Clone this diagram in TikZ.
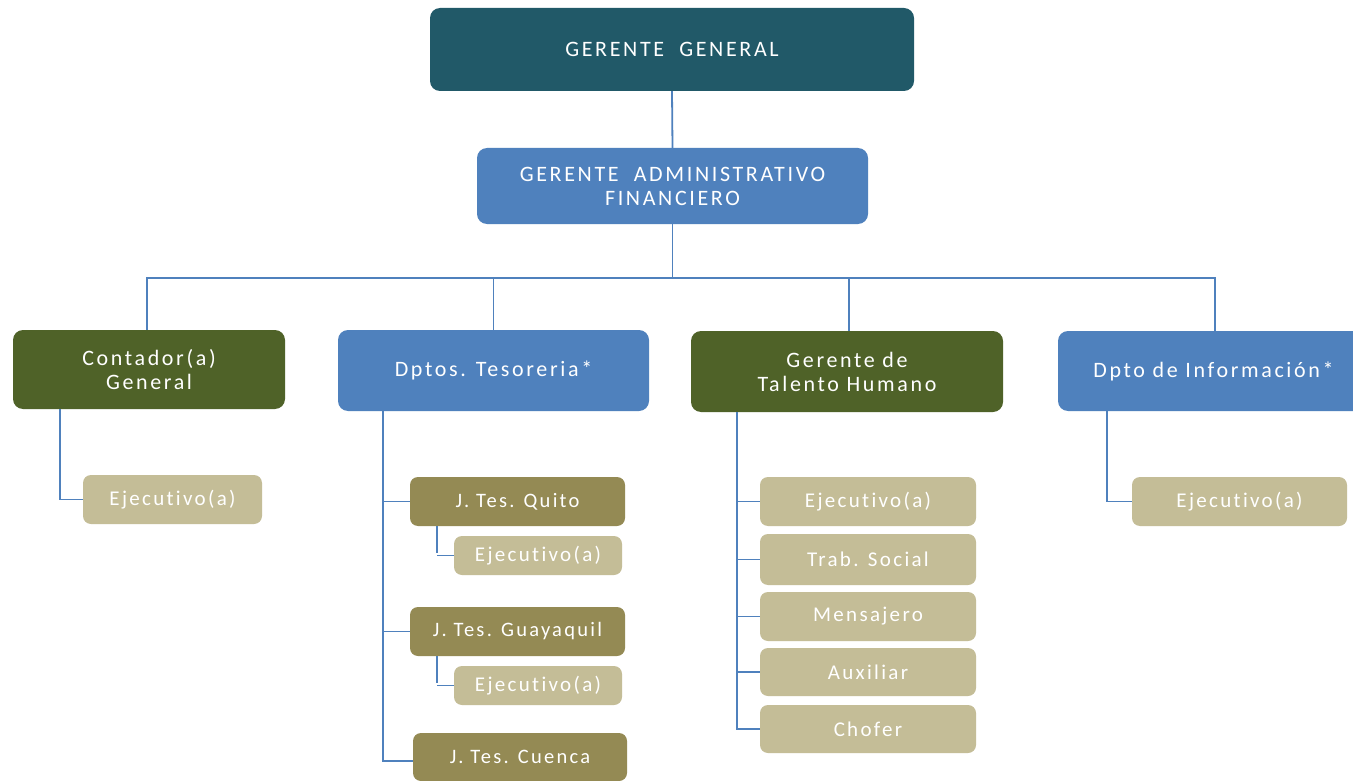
\documentclass[tikz,border=0pt]{standalone}
\usepackage{fontspec}
\setmainfont{Carlito}[Ligatures=NoCommon]
\newfontfamily\bigface{Carlito}[Ligatures=NoCommon, LetterSpace=12]
\newfontfamily\smallface{Carlito}[Ligatures=NoCommon, LetterSpace=11]
\definecolor{cTop}{HTML}{215968}
\definecolor{cBlue}{HTML}{4F81BD}
\definecolor{cGreen}{HTML}{4F6228}
\definecolor{cOlive}{HTML}{948A54}
\definecolor{cTan}{HTML}{C4BD97}
\tikzset{
  card/.style={rounded corners=10pt, text=white, align=center, inner sep=0pt,
    font=\bigface\fontsize{22}{24}\selectfont},
  topcard/.style={card, fill=cTop},
  bluecard/.style={card, fill=cBlue},
  greencard/.style={card, fill=cGreen},
  olivecard/.style={card, fill=cOlive, rounded corners=8pt, font=\smallface\fontsize{20.5}{22}\selectfont},
  tancard/.style={card, fill=cTan, rounded corners=8pt, font=\smallface\fontsize{21}{22}\selectfont},
  link/.style={draw=cBlue, line width=1.8pt},
}
\begin{document}
\begin{tikzpicture}[x=1pt, y=-1pt]
\useasboundingbox (0,0) rectangle (1353,781);
\clip (0,0) rectangle (1353,781);
\fill[white] (0,0) rectangle (1353,781);

% top levels
\node[topcard, minimum width=484pt, minimum height=83pt] (gg) at (672,49.5) {GERENTE\ \ GENERAL};
\node[bluecard, minimum width=391pt, minimum height=76pt] (gaf) at (672.5,186) {GERENTE\ \ ADMINISTRATIVO\\FINANCIERO};

% departments
\node[greencard, minimum width=272pt, minimum height=79pt] (cont) at (149,369.5) {Contador(a)\\General};
\node[bluecard, minimum width=311pt, minimum height=81pt] (tes) at (493.5,370.5) {Dptos. Tesoreria*};
\node[greencard, minimum width=312pt, minimum height=81pt] (th) at (847,371.5) {Gerente de\\Talento Humano};
\node[bluecard, minimum width=311pt, minimum height=80pt] (info) at (1213.5,371) {Dpto de Información*};

% Contador
\node[tancard, minimum width=179pt, minimum height=49pt] (ejc) at (172.5,499.5) {Ejecutivo(a)};

% Tesoreria
\node[olivecard, minimum width=215pt, minimum height=49pt] (quito) at (517.5,501.5) {J. Tes. Quito};
\node[tancard, minimum width=168pt, minimum height=39pt] (ejq) at (538,555.5) {Ejecutivo(a)};
\node[olivecard, minimum width=215pt, minimum height=49pt] (guay) at (517.5,631.5) {J. Tes. Guayaquil};
\node[tancard, minimum width=168pt, minimum height=39pt] (ejg) at (538,685.5) {Ejecutivo(a)};
\node[olivecard, minimum width=214pt, minimum height=48pt] (cuenca) at (520,757) {J. Tes. Cuenca};

% Talento Humano
\node[tancard, minimum width=216pt, minimum height=49pt] (ejt) at (868,501.5) {Ejecutivo(a)};
\node[tancard, minimum width=216pt, minimum height=51pt] (trab) at (868,559.5) {Trab. Social};
\node[tancard, minimum width=216pt, minimum height=49pt] (mens) at (868,616.5) {Mensajero};
\node[tancard, minimum width=216pt, minimum height=48pt] (aux) at (868,672) {Auxiliar};
\node[tancard, minimum width=216pt, minimum height=48pt] (chof) at (868,729) {Chofer};

% Informacion
\node[tancard, minimum width=215pt, minimum height=49pt] (eji) at (1239.5,501.5) {Ejecutivo(a)};

% connectors
\coordinate (bus) at (0,278);
\draw[link] (gg.south) -- (gaf.north);
\draw[link] (gaf.south) -- (gaf.south |- bus);
\draw[link] ([xshift=-2pt]cont.north) -- ([xshift=-2pt]cont.north |- bus) -- ([xshift=1.5pt]info.north |- bus) -- ([xshift=1.5pt]info.north);
\draw[link] (tes.north) -- (tes.north |- bus);
\draw[link] ([xshift=2pt]th.north) -- ([xshift=2pt]th.north |- bus);

\coordinate (cT) at ([xshift=-89pt]cont.south);
\draw[link] (cT) |- (ejc.west);

\coordinate (tT) at ([xshift=-110.5pt]tes.south);
\draw[link] (tT) -- ([yshift=-4pt]tT |- cuenca.west) -- ([yshift=-4pt]cuenca.west);
\draw[link] (tT |- quito.west) -- (quito.west);
\draw[link] (tT |- guay.west) -- (guay.west);

\coordinate (qT) at ([xshift=-80.5pt]quito.south);
\draw[link] (qT) -- ([yshift=3pt]qT |- ejq.west);
\draw[link] (qT |- ejq.west) -- (ejq.west);
\coordinate (gT) at ([xshift=-80.5pt]guay.south);
\draw[link] (gT) -- ([yshift=3pt]gT |- ejg.west);
\draw[link] (gT |- ejg.west) -- (ejg.west);

\coordinate (hT) at ([xshift=-110pt]th.south);
\draw[link] (hT) -- (hT |- chof.west) -- (chof.west);
\draw[link] (hT |- ejt.west) -- (ejt.west);
\draw[link] (hT |- trab.west) -- (trab.west);
\draw[link] (hT |- mens.west) -- (mens.west);
\draw[link] (hT |- aux.west) -- (aux.west);

\coordinate (iT) at ([xshift=-106.5pt]info.south);
\draw[link] (iT) |- (eji.west);
\end{tikzpicture}
\end{document}
